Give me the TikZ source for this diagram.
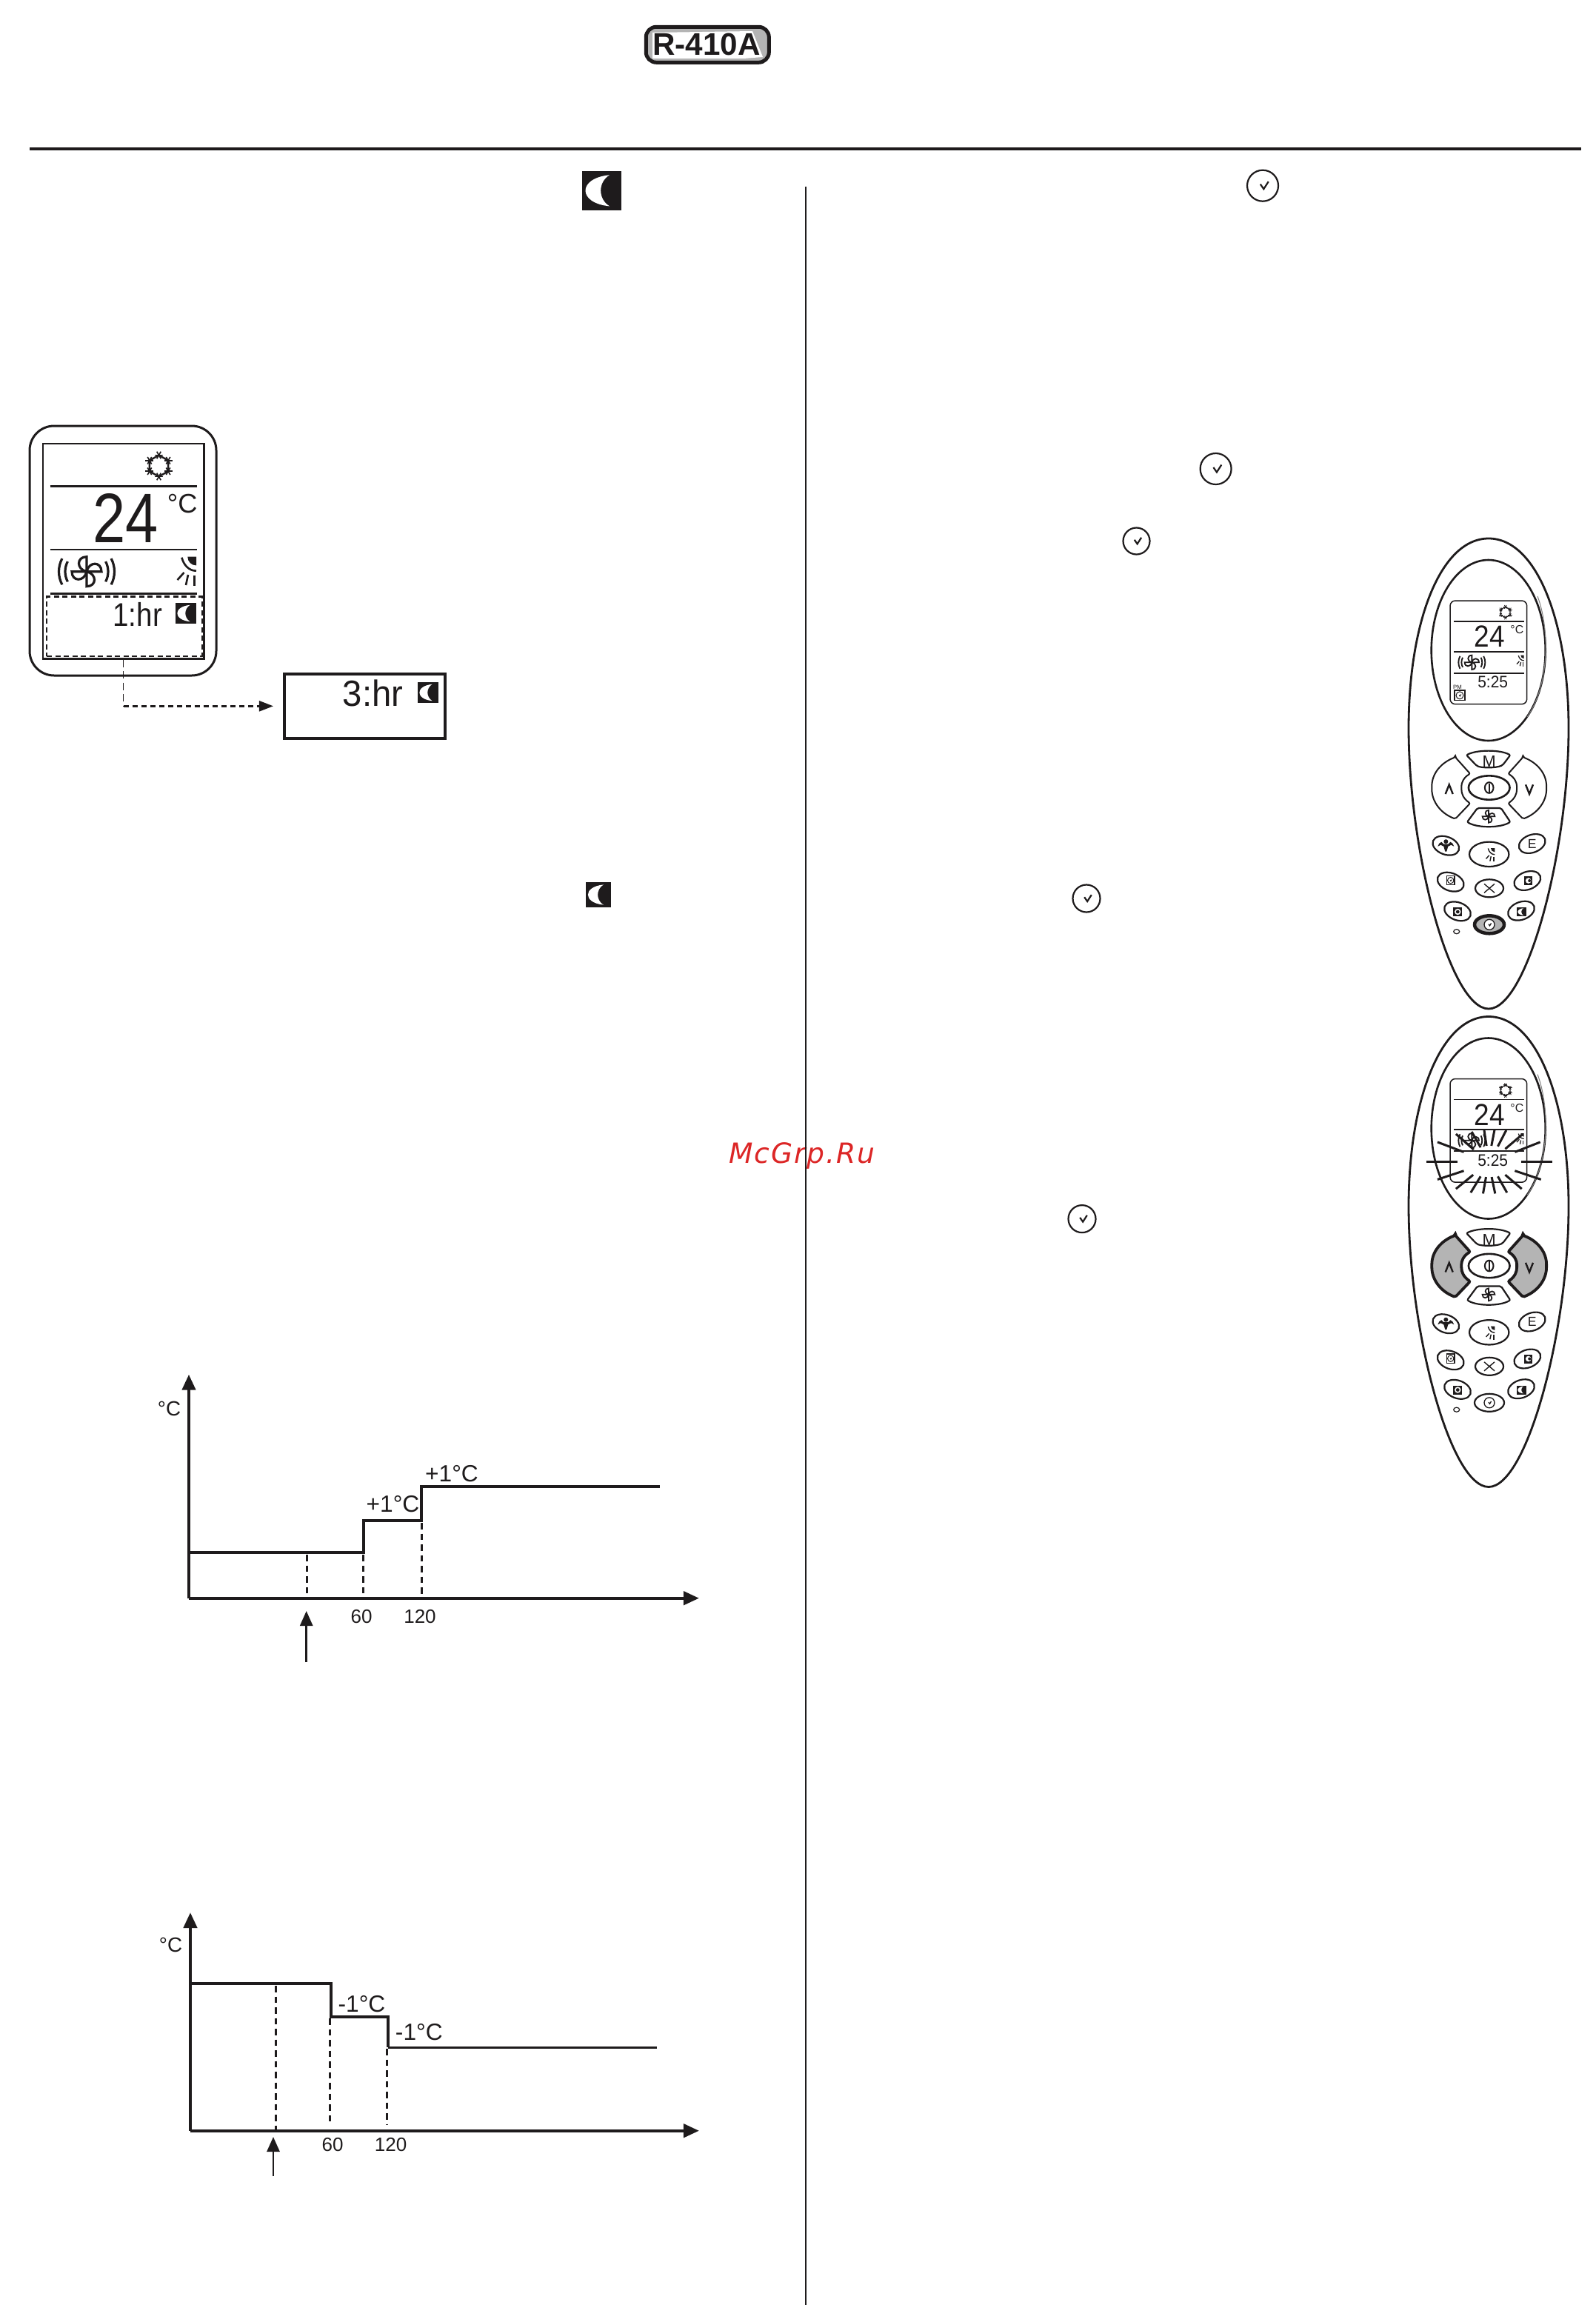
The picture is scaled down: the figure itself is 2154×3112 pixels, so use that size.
\documentclass[tikz,border=0pt]{standalone}
\usepackage{fontspec}
\usepackage{graphicx}
\usetikzlibrary{arrows.meta,calc}
\setmainfont{Liberation Sans}
\newfontfamily\wmfont[LetterSpace=5]{DejaVu Sans}
\definecolor{ink}{HTML}{1E1B1C}
\definecolor{btngrey}{HTML}{B4B4B4}
\definecolor{wm}{HTML}{DC2626}
\newcommand{\fsz}[1]{\fontsize{#1}{#1}\selectfont}
\tikzset{
  pxw/.style={line width=#1*0.01cm},
  txt/.style={inner sep=0pt,text=ink,font=\fsz{#1}},
  axisline/.style={draw=ink,pxw=4.4,-{Triangle[length=.21cm,width=.18cm]}},
  stepline/.style={draw=ink,pxw=#1,line join=miter},
  dropline/.style={draw=ink,pxw=3,dash pattern=on .085cm off .06cm},
  markarrow/.style={draw=ink,pxw=2.8,-{Triangle[length=.2cm,width=.17cm]}},
  btn/.style={draw=ink,pxw=2.2,fill=white},
  arrowplain/.style={draw=ink,pxw=2,fill=white},
  arrowhot/.style={draw=ink,pxw=3.8,fill=btngrey},
  centerplain/.style={draw=ink,pxw=2.2,fill=white},
  centerhot/.style={draw=ink,pxw=4.5,fill=btngrey},
}
% black tile with a white crescent
\newcommand{\moonicon}[4]{%
  \fill[ink] (#1,#2) rectangle ++(#3,#4);
  \fill[white,shift={(#1,#2)},xscale=#3,yscale=#4]
    (.70,.10) .. controls (-.12,.18) and (-.12,.82) .. (.70,.90)
    .. controls (.40,.72) and (.40,.28) .. cycle;}
% round clock with a tick
\newcommand{\clockicon}[4]{%
  \begin{scope}[shift={(#1,#2)},scale=#3/21]
    \draw[draw=ink,pxw=#4,fill=white] (0,0) circle[radius=21];
    \draw[draw=ink,pxw=#4] (-3.2,-2) -- (1.3,4.5) -- (7.7,-5.5);
  \end{scope}}
\newcommand{\snowicon}[3]{%
  \begin{scope}[shift={(#1,#2)},scale=#3,draw=ink,line width=#3*0.024cm]
    \draw (30:14.5) -- (90:14.5) -- (150:14.5) -- (210:14.5) -- (270:14.5) -- (330:14.5) -- cycle;
    \foreach \a in {30,90,...,330}{
      \foreach \b in {0,60,120}{
        \draw[line width=#3*0.016cm] ($(\a:14.5)+(\b:5.5)$) -- ($(\a:14.5)+(\b+180:5.5)$);
      }}
  \end{scope}}
\newcommand{\fanblades}[3]{%
  \begin{scope}[shift={(#1,#2)},scale=#3,draw=ink,line width=#3*0.026cm+0.006cm]
    \foreach \a in {0,90,180,270}{
      \draw[rotate=\a] (0,0) -- (0,-20) .. controls (-14,-20) and (-14,-3) .. (0,0);
    }
  \end{scope}}
\newcommand{\fanicon}[3]{%
  \fanblades{#1}{#2}{#3}
  \begin{scope}[shift={(#1,#2)},scale=#3,draw=ink,line width=#3*0.026cm+0.006cm]
    \foreach \r in {29,37.5}{
      \draw (-28:\r) arc[start angle=-28,end angle=28,radius=\r];
      \draw (152:\r) arc[start angle=152,end angle=208,radius=\r];
    }
  \end{scope}}
\newcommand{\sunicon}[3]{%
  \begin{scope}[shift={(#1,#2)},scale=#3,draw=ink,line width=#3*0.022cm+0.004cm]
    \fill[ink] (0,0) -- (-11.7,0) .. controls (-11.7,6.5) and (-6.5,11.7) .. (0,11.7) -- cycle;
    \draw (-19.6,1) .. controls (-17,11) and (-10,19) .. (0,19);
    \draw (-16.5,21.3) -- (-25.5,31.3);
    \draw (-11,24.3) -- (-14,38.3);
    \draw (-2.6,25) -- (-2.6,39.3);
  \end{scope}}
\newcommand{\armbutton}[1]{%
  \draw[#1,rounded corners=.02cm] (1965,1022.3) -- (1985,1044.6)
    .. controls (1976,1050) and (1973.3,1057) .. (1973.3,1063.5)
    .. controls (1973.3,1072) and (1976,1078) .. (1985,1084.6)
    -- (1965,1105.6)
    .. controls (1945,1098) and (1933.3,1082) .. (1933.3,1063.5)
    .. controls (1933.3,1045) and (1945,1030) .. (1965,1022.3) -- cycle;}
% #1 prefix of the node names, #2 style of arrow keys, #3 style of centre key
\newcommand{\remotebody}[3]{%
  \draw[draw=ink,pxw=2.8,fill=white] (2010,727) .. controls (2075,727) and (2118,840) .. (2118,983)
    .. controls (2118,1150) and (2062,1362) .. (2010,1362)
    .. controls (1958,1362) and (1902,1150) .. (1902,983)
    .. controls (1902,840) and (1945,727) .. (2010,727) -- cycle;
  \draw[draw=ink,pxw=2.6] (2009.7,878) ellipse[x radius=77,y radius=122];
  \draw[draw=gray,pxw=1] (2076,805) .. controls (2093,850) and (2092,925) .. (2062,968);
  \draw[draw=ink,pxw=1.5,rounded corners=.07cm] (1958,811) rectangle (2061.7,950.7);
  \foreach \yy in {839,879.6,908.7}{\draw[draw=ink,pxw=1.8] (1963,\yy) -- (2057.7,\yy);}
  \snowicon{2032.7}{826.6}{.5}
  \node[txt=11.7] (#1temp) at (2011.5,859.3) {\scalebox{.9}[1]{24}};
  \node[txt=4.5] (#1unit) at (2048.3,850.5) {°C};
  \fanicon{1987.3}{894.3}{.48}
  \sunicon{2057.7}{884.7}{.38}
  \node[txt=6.4] (#1time) at (2015.7,921) {\scalebox{.93}[1]{5:25}};
  % mode keys
  \draw[btn,rounded corners=.02cm] (1980,1019.4) .. controls (1995,1012) and (2025,1012) .. (2039.3,1019.4)
    -- (2029,1033) .. controls (2020,1037) and (2002,1037) .. (1994,1034) -- cycle;
  \node[txt=6.2] (#1mode) at (2010.7,1028) {M};
  \armbutton{#2}
  \begin{scope}[shift={(4021.4,0)},xscale=-1]\armbutton{#2}\end{scope}
  \draw[draw=ink,pxw=2.4] (1951.7,1072) -- (1956.7,1059.3) -- (1961.7,1072);
  \draw[draw=ink,pxw=2.4] (2060,1059.3) -- (2065,1072) -- (2070,1059.3);
  \draw[btn,pxw=2.6] (2010.7,1063.5) ellipse[x radius=27.8,y radius=16.2];
  \draw[draw=ink,pxw=2] (2010.7,1063.5) ellipse[x radius=5.8,y radius=7.3];
  \draw[draw=ink,pxw=2] (2010.7,1057.5) -- (2010.7,1069.5);
  \draw[btn,rounded corners=.02cm] (1995,1090.9) -- (2026.7,1090.9) -- (2039.3,1109.8)
    .. controls (2025,1118) and (1995,1118) .. (1981,1109.8) -- cycle;
  \fanblades{2010}{1102.3}{.42}
  % small keys
  \foreach \cx/\cy/\ang in {1952.3/1141.7/-20,2068.7/1139/20,1958.7/1190.7/-20,2062.3/1189/20,1968/1230.3/-20,2054/1229.7/20}{
    \draw[btn,rotate around={\ang:(\cx,\cy)}] (\cx,\cy) ellipse[x radius=18.5,y radius=12];
  }
  \draw[btn] (2010.7,1153.3) ellipse[x radius=26.7,y radius=16.7];
  \draw[btn] (2011,1199.3) ellipse[x radius=19,y radius=12];
  \draw[#3] (2011,1248.3) ellipse[x radius=20,y radius=12];
  \draw[draw=ink,pxw=1.2,fill=white] (1966.7,1257.7) ellipse[x radius=4,y radius=3];
  \begin{scope}[shift={(1952.3,1141.7)}]
    \fill[ink] (-11,1) -- (-9,-3) -- (-6,-5) -- (-3,-2) -- (3,-2) -- (6,-5) -- (9,-3) -- (11,1)
      -- (7,-1) -- (3,1) -- (1,8) -- (-1,8) -- (-3,1) -- (-7,-1) -- cycle;
    \fill[ink] (0,-5.5) circle[radius=3];
  \end{scope}
  \node[txt=5] (#1eco) at (2068.7,1139) {E};
  \sunicon{2018.3}{1145}{.46}
  \draw[draw=ink,pxw=1.3] (1953.3,1182.5) rectangle (1964,1194.8);
  \clockicon{1958.7}{1188.6}{4.2}{1}
  \fill[ink] (2058.2,1183) rectangle (2069.2,1195);
  \fill[white] (2063.7,1189) circle[radius=3.8];
  \fill[ink] (2065.2,1189) circle[radius=2];
  \draw[draw=ink,pxw=1.4] (2004,1193.3) -- (2018,1205.3);
  \draw[draw=ink,pxw=1.4] (2018,1193.3) -- (2004,1205.3);
  \fill[ink] (1962.3,1225) rectangle (1974.3,1237);
  \fill[white] (1968.3,1231) circle[radius=4.2];
  \fill[ink] (1968.3,1231) circle[radius=2.4];
  \moonicon{2048.3}{1225}{12.4}{12}
  \clockicon{2011}{1248.3}{7}{1.3}}
\begin{document}
\begin{tikzpicture}[x=0.01cm,y=-0.01cm]
\useasboundingbox (0,0) rectangle (2154,3112);
% watermark below the column rule
\node[inner sep=0pt,text=wm,font=\fsz{10.7}\wmfont\itshape] (watermark) at (1083,1560) {McGrp.Ru};
% badge and page rules
\node[draw=ink,pxw=5,fill=btngrey,rounded corners=.14cm,minimum width=1.66cm,minimum height=.48cm,inner sep=0pt] (badge) at (955.3,60.3) {};
\fill[white] (881,44) -- (1016,42) -- (1030,77) -- (1004,79) -- (881,79) -- cycle;
\node[inner sep=0pt,text=ink,font=\fsz{12}\bfseries] (badgetext) at (954,60) {R-410A};
\coordinate (ruleL) at (40,201);
\coordinate (ruleR) at (2135,201);
\draw[draw=ink,pxw=4.4] (ruleL) -- (ruleR);
\coordinate (colT) at (1088,251.7);
\coordinate (colB) at (1088,3112);
\draw[draw=ink,pxw=2.4] (colT) -- (colB);
% inline symbols
\moonicon{786}{231}{53}{52.7}
\moonicon{791}{1191}{34}{34}
\clockicon{1705}{250.7}{21}{2.2}
\clockicon{1641.6}{633}{21}{2.2}
\clockicon{1534.5}{730.5}{18}{2.2}
\clockicon{1467}{1213}{18.5}{2.2}
\clockicon{1461}{1645.6}{18.5}{2.2}
% display
\draw[draw=ink,pxw=3,rounded corners=.33cm] (40,575) rectangle (292,912);
\node[draw=ink,pxw=2.4,minimum width=2.17cm,minimum height=2.903cm,inner sep=0pt,anchor=north west] (lcd) at (57,597.7) {};
\foreach \yy/\w in {656.7/3.4,741.7/2,801.7/3.4}{\draw[draw=ink,pxw=\w] (67.5,\yy) -- (265.5,\yy);}
\snowicon{214.5}{629}{1}
\node[txt=26.9] (bigtemp) at (170,699) {\scalebox{.84}[1]{24}};
\node[txt=10.3] (bigunit) at (246.3,679.7) {°C};
\fanicon{117}{771.7}{1}
\sunicon{265}{751.7}{1}
\node[draw=ink,pxw=2.4,dash pattern=on .07cm off .045cm,minimum width=2.095cm,minimum height=.804cm,inner sep=0pt,anchor=north west] (timerzone) at (62,804.3) {};
\node[txt=12.6] (hourone) at (185.7,829) {\scalebox{.87}[1]{1:hr}};
\moonicon{237}{814}{28}{28}
% enlarged timer box
\node[draw=ink,pxw=3.6,minimum width=2.17cm,minimum height=.87cm,inner sep=0pt,anchor=north west] (hourbox) at (382,908) {};
\node[txt=14] (hourthree) at (503.5,935.5) {\scalebox{.96}[1]{3:hr}};
\moonicon{564}{921}{28}{28}
\coordinate (bend) at (lcd.south |- hourbox.west);
\coordinate (boxgap) at ($(hourbox.west)+(-13,0)$);
\draw[draw=ink,pxw=1.4,dash pattern=on .1cm off .055cm] (lcd.south) -- (bend);
\draw[draw=ink,pxw=2.4,dash pattern=on .07cm off .05cm,-{Triangle[length=.19cm,width=.14cm,sep=0pt]}] (bend) -- (boxgap);
% chart, rising set point
\coordinate (aO) at (255,2157.7);
\coordinate (aY) at (255,1855.7);
\coordinate (aX) at (944,2157.7);
\draw[axisline] (aO) -- (aY);
\draw[axisline] (aO) -- (aX);
\coordinate (a0) at (255,2095.7);
\coordinate (a1) at (491,2095.7);
\coordinate (a2) at (491,2052.7);
\coordinate (a3) at (569,2052.7);
\coordinate (a4) at (569,2006.7);
\coordinate (a5) at (890.7,2006.7);
\draw[stepline=4.4] (a0) -- (a1) -- (a2) -- (a3) -- (a4) -- (a5);
\draw[dropline] (414,2099) -- (414,2156);
\draw[dropline] (490,2099) -- (490,2156);
\draw[dropline] (569,2056) -- (569,2156);
\coordinate (aP) at (413.7,2244);
\coordinate (aT) at (413.7,2175);
\draw[markarrow] (aP) -- (aT);
\node[txt=7.9] (aunit) at (228.5,1901.5) {°C};
\node[txt=9] (aplusa) at (530.5,2031) {+1°C};
\node[txt=9] (aplusb) at (610,1989.5) {+1°C};
\node[txt=7.4] (asixty) at (488,2183) {60};
\node[txt=7.4] (aonetwenty) at (567,2183) {120};
% chart, falling set point
\coordinate (bO) at (257,2876.7);
\coordinate (bY) at (257,2582);
\coordinate (bX) at (944,2876.7);
\draw[axisline] (bO) -- (bY);
\draw[axisline] (bO) -- (bX);
\coordinate (b0) at (257,2677.7);
\coordinate (b1) at (447,2677.7);
\coordinate (b2) at (447,2723);
\coordinate (b3) at (524,2723);
\coordinate (b4) at (524,2764);
\coordinate (b5) at (886.6,2764);
\draw[stepline=4.4] (b0) -- (b1) -- (b2) -- (b3) -- (b4);
\draw[stepline=3] (b4) -- (b5);
\draw[dropline] (372,2681) -- (372,2875);
\draw[dropline] (445,2725) -- (445,2868);
\draw[dropline] (522,2766) -- (522,2868);
\coordinate (bP) at (369,2938);
\coordinate (bT) at (369,2885);
\draw[markarrow] (bP) -- (bT);
\node[txt=7.9] (bunit) at (230.5,2626) {°C};
\node[txt=9] (bminusa) at (488.5,2706) {-1°C};
\node[txt=9] (bminusb) at (565.8,2744) {-1°C};
\node[txt=7.4] (bsixty) at (449,2896) {60};
\node[txt=7.4] (bonetwenty) at (527.7,2896) {120};
% remote one
\remotebody{ra}{arrowplain}{centerhot}
\node[txt=2.2] (rapm) at (1968,928) {PM};
\draw[draw=ink,pxw=1.2] (1964,932) rectangle (1978,945.7);
\clockicon{1971}{938.8}{5}{1}
% remote two
\begin{scope}[shift={(0,645.5)}]
\remotebody{rb}{arrowhot}{centerplain}
\end{scope}
\begin{scope}[shift={(1880,1370)},x=0.00333cm,y=-0.00421cm]
\foreach \xa/\ya/\xb/\yb in {137/470/263/470,523/470/648/470,183/408/290/440,497/440/600/408,183/528/290/500,497/500/603/528,258/382/330/432,322/375/358/425,372/367/382/420,415/367/402/420,462/370/428/422,525/385/458/430,258/558/328/513,318/570/358/518,368/573/380/520,417/573/403/520,465/570/428/518,525/558/458/513}{
  \draw[draw=ink,pxw=3] (\xa,\ya) -- (\xb,\yb);
}
\end{scope}
\end{tikzpicture}
\end{document}
